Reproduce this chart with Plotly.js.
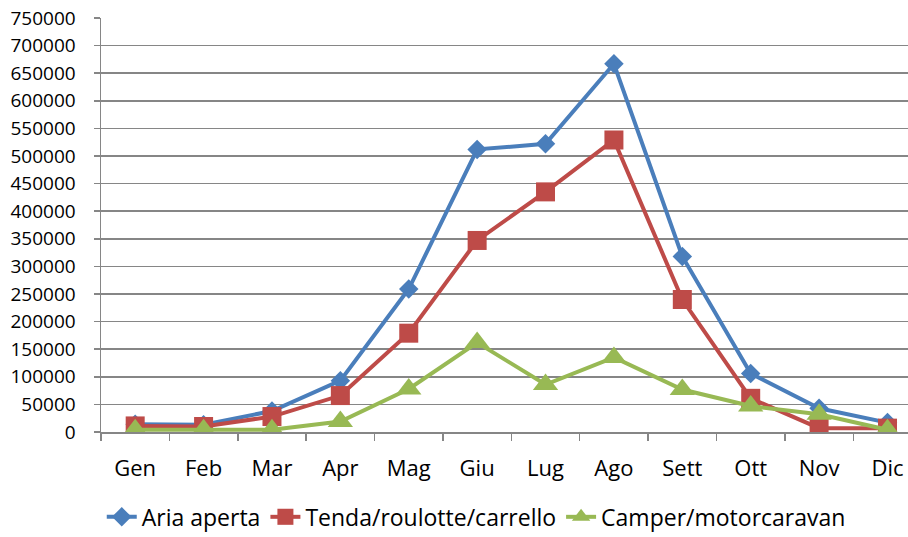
<!DOCTYPE html>
<html>
<head>
<meta charset="utf-8">
<script src="https://cdn.plot.ly/plotly-3.0.1.min.js"></script>
<style>html,body{margin:0;padding:0;background:#fff;}#chart{width:908px;height:537px;}</style>
</head>
<body>
<div id="chart"></div>
<script>
const months = ['Gen','Feb','Mar','Apr','Mag','Giu','Lug','Ago','Sett','Ott','Nov','Dic'];
const ariaAperta = [14000, 13000, 38000, 93000, 259000, 512000, 522000, 667000, 318000, 106000, 43000, 17000];
const tendaRoulotte = [11000, 10000, 28000, 66000, 179000, 347000, 435000, 529000, 240000, 61000, 7000, 7000];
const camper = [4000, 4000, 4000, 19000, 78000, 162000, 86000, 135000, 77000, 47000, 32000, 4000];
const yTicks = [0,50000,100000,150000,200000,250000,300000,350000,400000,450000,500000,550000,600000,650000,700000,750000];

const FONT = 'Open Sans, sans-serif';
const traces = [
  {x: months, y: ariaAperta, name: 'Aria aperta', type: 'scatter', mode: 'lines+markers',
   line: {color: '#4A7EBB', width: 4}, marker: {symbol: 'diamond', size: 15, color: '#4A7EBB'}},
  {x: months, y: tendaRoulotte, name: 'Tenda/roulotte/carrello', type: 'scatter', mode: 'lines+markers',
   line: {color: '#BE4B48', width: 4}, marker: {symbol: 'square', size: 19, color: '#BE4B48'}},
  {x: months, y: camper, name: 'Camper/motorcaravan', type: 'scatter', mode: 'lines+markers',
   line: {color: '#98B954', width: 4}, marker: {symbol: 'triangle-up', size: 22, color: '#98B954'}}
];
const layout = {
  width: 908, height: 537,
  margin: {l: 101, r: 0, t: 18, b: 105, autoexpand: false},
  paper_bgcolor: '#fff', plot_bgcolor: '#fff',
  showlegend: true,
  font: {family: FONT, color: '#000'},
  xaxis: {
    type: 'category', range: [-0.5, 11.3], automargin: false,
    showgrid: false, zeroline: false,
    showline: true, linecolor: '#868686', linewidth: 1.5,
    ticks: 'outside', tickson: 'boundaries', ticklen: 7, tickcolor: '#868686', tickwidth: 1.5,
    tickfont: {family: FONT, size: 22, color: '#000'},
    ticklabelstandoff: 16
  },
  yaxis: {
    range: [0, 750000], tickvals: yTicks, ticktext: yTicks.map(String), automargin: false,
    showgrid: true, gridcolor: '#868686', gridwidth: 1.5,
    zeroline: false,
    showline: true, linecolor: '#868686', linewidth: 1.5,
    ticks: 'outside', ticklen: 6, tickcolor: '#868686', tickwidth: 1.5,
    tickfont: {family: FONT, size: 19, color: '#000'},
    ticklabelstandoff: 14
  },
  legend: {
    orientation: 'h', x: 0.465, xanchor: 'center', y: -0.205, yanchor: 'middle',
    font: {family: FONT, size: 23, color: '#000'},
    bgcolor: 'rgba(0,0,0,0)'
  }
};
Plotly.newPlot('chart', traces, layout, {displayModeBar: false, staticPlot: true});
</script>
</body>
</html>
